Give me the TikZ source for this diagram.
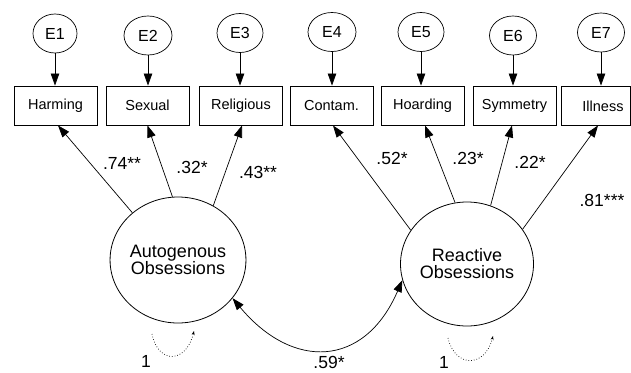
\documentclass[tikz,border=0pt]{standalone}
\usepackage{fontspec}
\setmainfont{Liberation Sans}
\usetikzlibrary{arrows.meta,shapes.geometric}
\tikzset{
  obsbox/.style={draw, line width=0.9pt, minimum width=83pt, minimum height=39pt, inner sep=0pt, font=\fontsize{14.5}{16}\selectfont},
  errell/.style={draw, ellipse, line width=0.7pt, minimum width=46pt, minimum height=39pt, inner sep=0pt, font=\fontsize{16}{18}\selectfont},
  latent/.style={draw, ellipse, line width=0.8pt, inner sep=0pt, align=center, font=\fontsize{18}{20}\selectfont},
  arr/.style={line width=0.7pt, -{Triangle[length=12pt,width=8.5pt]}},
  coef/.style={inner sep=0pt, font=\fontsize{17.5}{19}\selectfont},
  varloop/.style={dotted, line width=0.7pt, -{Stealth[length=4pt,width=3pt]}},
}
\begin{document}
\begin{tikzpicture}[x=1pt,y=-1pt]
\useasboundingbox (0,0) rectangle (631,372);
\clip (0,0) rectangle (631,372);
% boxes
\node[obsbox] (b1) at (55.5,105.5) {Harming};
\node[obsbox] (b2) at (147.5,105.5) {Sexual};
\node[obsbox] (b3) at (241,105.5) {Religious};
\node[obsbox] (b4) at (331.5,105.5) {Contam.};
\node[obsbox] (b5) at (422.5,105.5) {Hoarding};
\node[obsbox] (b6) at (514.5,105.5) {Symmetry};
\node[obsbox, minimum width=69pt] (b7) at (595.5,105.5) {};
\node[inner sep=0pt, font=\fontsize{14.5}{16}\selectfont] (t7) at (603,106) {Illness};
% errors
\node[errell, minimum width=44pt] (e1) at (55,33.5) {E1};
\node[errell, minimum width=48pt] (e2) at (148,35.5) {E2};
\node[errell] (e3) at (240,33) {E3};
\node[errell, minimum width=48pt] (e4) at (332,32) {E4};
\node[errell] (e5) at (421,32) {E5};
\node[errell, minimum width=47pt] (e6) at (513,35.5) {E6};
\node[errell, minimum width=47pt] (e7) at (601,32.5) {E7};
\foreach \i in {1,...,7} { \draw[arr] (e\i.south) -- (e\i.south |- b\i.north); }
% latent
\node[latent, minimum width=120pt, minimum height=126pt] (auto) at (178,260) {Autogenous\\[-3pt]Obsessions};
\node[latent, minimum width=118pt, minimum height=124pt] (react) at (467,264) {Reactive\\[-3pt]Obsessions};
% loadings
\draw[arr] (auto.134) -- ([xshift=2.5pt]b1.south);
\draw[arr] (auto.95) -- (b2.south);
\draw[arr] (auto.57) -- ([xshift=1pt]b3.south);
\draw[arr] (react.149) -- ([xshift=1.5pt]b4.south);
\draw[arr] (react.101) -- ([xshift=2.5pt]b5.south);
\draw[arr] (react.68) -- ([xshift=-2.5pt]b6.south);
\draw[arr] (react.32) -- ([xshift=2.5pt]b7.south);
\node[coef] (l1) at (122,163) {.74**};
\node[coef] (l2) at (192,167) {.32*};
\node[coef] (l3) at (258,172) {.43**};
\node[coef] (l4) at (392,158) {.52*};
\node[coef] (l5) at (468,158) {.23*};
\node[coef] (l6) at (530,162) {.22*};
\node[coef] (l7) at (602,200) {.81***};
% covariance
\draw[line width=0.7pt, {Triangle[length=12pt,width=8.5pt]}-{Triangle[length=12pt,width=8.5pt]}]
  (auto.-35) .. controls +(60,72) and +(-38,88) .. (react.-166);
\node[coef] (cv) at (329,362) {.59*};
% variances
\coordinate (v1a) at (152,334);
\coordinate (v1b) at (194,331);
\draw[varloop] (v1a) .. controls (158,364) and (186,364) .. (v1b);
\node[coef] (one1) at (146,361) {1};
\coordinate (v2a) at (448,338);
\coordinate (v2b) at (493,336);
\draw[varloop] (v2a) .. controls (455,368) and (485,368) .. (v2b);
\node[coef] (one2) at (444,362) {1};
\end{tikzpicture}
\end{document}
